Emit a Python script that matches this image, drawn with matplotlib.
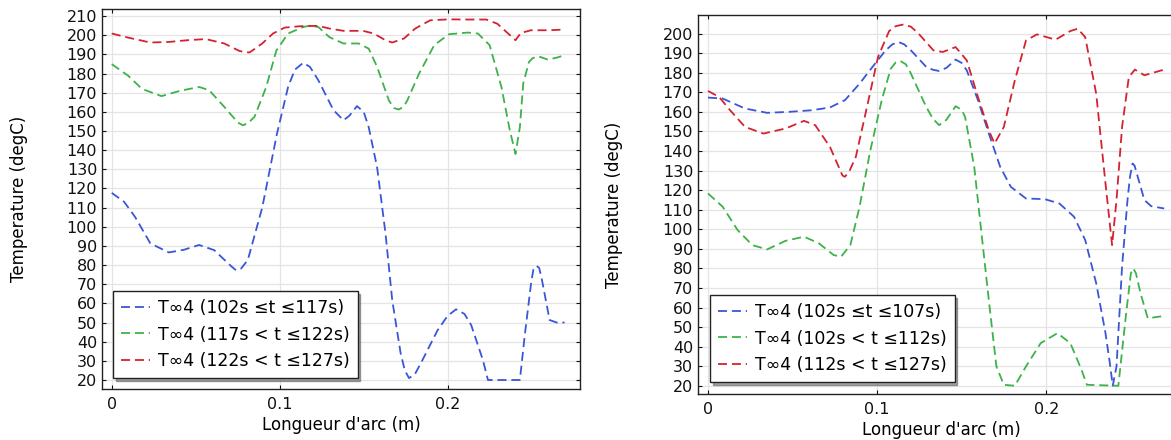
import matplotlib
matplotlib.use("Agg")
import matplotlib.pyplot as plt

# ---- left panel data ----
x_b1 = [0, 0.0074, 0.014, 0.023, 0.034, 0.043, 0.052, 0.061, 0.071, 0.074,
        0.077, 0.081, 0.0896, 0.0984, 0.105, 0.109, 0.114, 0.118, 0.123, 0.132,
        0.138, 0.1415, 0.146, 0.150, 0.153, 0.158, 0.163, 0.167, 0.172, 0.1745,
        0.177, 0.1805, 0.185, 0.194, 0.200, 0.205, 0.210, 0.214, 0.221, 0.224,
        0.243, 0.246, 0.2496, 0.251, 0.2529, 0.2545, 0.2562, 0.2607, 0.265, 0.2696]
t_b1 = [117.7, 113, 105, 91.3, 86.6, 88, 90.5, 87.8, 79.5, 77.3,
        78.2, 82.6, 110, 148.7, 173, 182, 185.6, 183.5, 176.5, 160.9,
        155.6, 158, 163, 160, 152, 131, 96.5, 61.7, 34, 25,
        21, 23, 30.4, 46, 53.5, 56.9, 54.5, 48.7, 30.4, 20,
        20, 44, 70, 77.5, 79.6, 78.5, 72, 51.3, 50, 50]

x_g1 = [0, 0.0096, 0.018, 0.0296, 0.0407, 0.052, 0.058, 0.067, 0.075, 0.078,
        0.081, 0.085, 0.092, 0.098, 0.105, 0.114, 0.118, 0.123, 0.1296, 0.138,
        0.147, 0.153, 0.158, 0.165, 0.168, 0.171, 0.174, 0.176, 0.183, 0.192,
        0.2007, 0.212, 0.218, 0.225, 0.232, 0.237, 0.2404, 0.243, 0.245, 0.2484,
        0.2505, 0.254, 0.2596, 0.265, 0.2696]
t_g1 = [184.9, 179, 172, 168.2, 171, 173, 171.3, 162.6, 154.5, 153,
        154, 157.4, 173, 192, 200.9, 204.3, 205, 204.3, 199, 195.7,
        195.7, 193, 183.5, 166, 162, 161.2, 163, 166, 180, 194.8,
        200.5, 201.4, 200.9, 194.8, 173, 150.4, 138, 152, 174.8, 186,
        188, 189, 187.3, 188.3, 189.6]

x_r1 = [0, 0.0096, 0.023, 0.034, 0.045, 0.056, 0.067, 0.076, 0.079, 0.082,
        0.085, 0.0896, 0.096, 0.103, 0.112, 0.123, 0.1296, 0.138, 0.1496, 0.156,
        0.163, 0.167, 0.174, 0.1807, 0.1896, 0.2007, 0.212, 0.223, 0.2296, 0.236,
        0.2404, 0.2436, 0.2496, 0.2607, 0.2696]
t_r1 = [200.9, 198.8, 196.2, 196.5, 197.4, 198, 195.7, 191.8, 191.2, 191,
        192.8, 195.7, 200.9, 204, 204.7, 204.9, 203.5, 202.3, 202.3, 200.9,
        197.4, 196.2, 198.3, 203.5, 207.8, 208.3, 208.2, 208.2, 206, 200.9,
        197.4, 201.2, 202.6, 202.6, 203]

# ---- right panel data ----
x_b2 = [0, 0.0087, 0.0219, 0.035, 0.048, 0.061, 0.072, 0.081, 0.0896, 0.098,
        0.105, 0.109, 0.1126, 0.116, 0.120, 0.129, 0.133, 0.1366, 0.141, 0.1464,
        0.150, 0.153, 0.1596, 0.166, 0.1727, 0.179, 0.188, 0.199, 0.2077, 0.2164,
        0.223, 0.2295, 0.235, 0.2375, 0.2393, 0.2415, 0.2448, 0.248, 0.2495, 0.251,
        0.2522, 0.2535, 0.258, 0.262, 0.2697]
t_b2 = [167.3, 166.8, 161.7, 159.5, 160, 160.8, 162.2, 166, 174.4, 183.8,
        191.4, 194.5, 195.7, 194.5, 191.4, 183, 181.5, 180.9, 182.5, 186.7,
        185, 181.2, 166, 149, 132, 121.7, 115.7, 115.4, 113.2, 106.4,
        94.5, 72.4, 46.9, 32, 20, 29.9, 80.9, 114.9, 127, 133.6,
        132.5, 128.5, 114.9, 111.8, 110.6]

x_g2 = [0, 0.0087, 0.0175, 0.0262, 0.035, 0.0459, 0.0568, 0.0656, 0.0743, 0.0787,
        0.0842, 0.0896, 0.096, 0.1027, 0.108, 0.111, 0.1137, 0.117, 0.120, 0.129,
        0.133, 0.1366, 0.141, 0.1464, 0.150, 0.152, 0.1574, 0.1617, 0.166, 0.1705,
        0.1749, 0.1814, 0.188, 0.1967, 0.2066, 0.2142, 0.2208, 0.224, 0.2426, 0.247,
        0.250, 0.2514, 0.253, 0.2557, 0.26, 0.2697]
t_g2 = [118.3, 111.5, 99.6, 91.9, 89.7, 94.1, 96.2, 92.8, 86.8, 86,
        92, 111.5, 140.4, 165.9, 182, 185.3, 186, 184.3, 179.5, 162.5,
        156.5, 153.2, 156, 162.9, 161, 157.4, 131.9, 97.9, 63.9, 29.9,
        20.5, 20, 29.9, 41.8, 46.9, 41.8, 28.2, 20.5, 20, 55.4,
        77.5, 80, 77.5, 67.3, 54.5, 55.7]

x_r2 = [0, 0.0066, 0.0131, 0.0219, 0.0328, 0.0459, 0.0568, 0.0634, 0.0721, 0.0795,
        0.0809, 0.0835, 0.0874, 0.094, 0.1005, 0.1071, 0.111, 0.1158, 0.120, 0.1246,
        0.1333, 0.1388, 0.1464, 0.153, 0.1596, 0.166, 0.1694, 0.1749, 0.1814, 0.188,
        0.1945, 0.2055, 0.2142, 0.2186, 0.223, 0.2295, 0.235, 0.2389, 0.2415, 0.2448,
        0.2488, 0.2524, 0.258, 0.2645, 0.2697]
t_r2 = [170.7, 167.6, 160.8, 152.3, 148.9, 151.5, 155.4, 153.2, 142.1, 127.5,
        126.8, 129.5, 137, 162.5, 188, 201.3, 203.8, 204.7, 203.5, 199.9,
        191.4, 190.6, 193.1, 186.3, 167.6, 150.6, 143.8, 152.3, 176.1, 196.5,
        199.6, 196.9, 201.3, 202.5, 198.2, 169.3, 123.4, 91.9, 114.9, 152.3,
        177.8, 181.6, 178.7, 180.3, 181.6]

labels_left = ["T\u221e4 (102s \u2264t \u2264117s)",
               "T\u221e4 (117s < t \u2264122s)",
               "T\u221e4 (122s < t \u2264127s)"]
labels_right = ["T\u221e4 (102s \u2264t \u2264107s)",
                "T\u221e4 (102s < t \u2264112s)",
                "T\u221e4 (112s < t \u2264127s)"]

colors = ["#3a56d8", "#3db24a", "#d42231"]

plt.rcParams["font.family"] = ["DejaVu Sans"]
plt.rcParams["lines.scale_dashes"] = False

W, H = 1171, 440
fig = plt.figure(figsize=(W / 100, H / 100), dpi=100)


def px_axes(l, t, r, b):
    return fig.add_axes([l / W, 1 - b / H, (r - l) / W, (b - t) / H])


def style(ax, yticks):
    ax.set_yticks(yticks)
    ax.set_xticks([0, 0.1, 0.2])
    ax.set_xticklabels(["0", "0.1", "0.2"])
    ax.grid(True, color="#e4e4e4", linewidth=0.9)
    ax.set_axisbelow(True)
    ax.tick_params(direction="in", length=3, width=0.8, top=True, right=True,
                   labelsize=11.5, colors="#111111")
    ax.tick_params(axis="x", pad=6)
    ax.tick_params(axis="y", pad=3.5)
    for s in ax.spines.values():
        s.set_linewidth(1.0)
        s.set_color("#222222")
    ax.set_xlabel("Longueur d'arc (m)", fontsize=12, labelpad=2.5)
    ax.set_ylabel("Temperature (degC)", fontsize=12)


def draw(ax, xs, ts, labels, anchor):
    for x, t, c, lab in zip(xs, ts, colors, labels):
        ax.plot(x, t, color=c, linewidth=1.3, dashes=(6.5, 3.5), label=lab)
    leg = ax.legend(loc="lower left", bbox_to_anchor=(anchor[0] / W, 1 - anchor[1] / H),
                    bbox_transform=fig.transFigure, borderaxespad=0,
                    fontsize=12.5, handlelength=1.7, handletextpad=0.45,
                    labelspacing=0.5, borderpad=0.45, fancybox=False, shadow=True,
                    framealpha=1)
    leg.get_frame().set_edgecolor("#222222")
    leg.get_frame().set_linewidth(1.0)


ax1 = px_axes(102, 9, 580, 389)
draw(ax1, [x_b1, x_g1, x_r1], [t_b1, t_g1, t_r1], labels_left, (113, 378))
ax1.set_xlim(-0.0058, 0.2788)
ax1.set_ylim(15.3, 213.7)
style(ax1, list(range(20, 211, 10)))
ax1.yaxis.set_label_coords((28 - 102) / 478, 0.5)

ax2 = px_axes(698, 15, 1185, 394)
draw(ax2, [x_b2, x_g2, x_r2], [t_b2, t_g2, t_r2], labels_right, (710, 382))
ax2.set_xlim(-0.0059, 0.282)
ax2.set_ylim(15.8, 209.5)
style(ax2, list(range(20, 201, 10)))
ax2.yaxis.set_label_coords((623 - 698) / 487, 0.5)

fig.savefig("out.png", dpi=100)
